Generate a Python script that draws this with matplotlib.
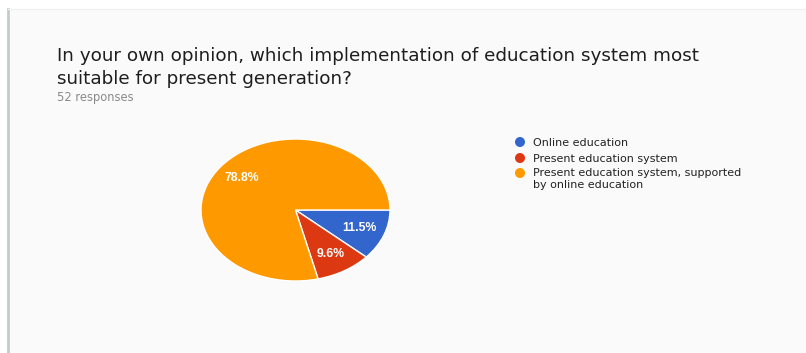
import matplotlib.pyplot as plt
from matplotlib.patches import Rectangle

# survey data (52 responses)
labels = ["Online education", "Present education system",
          "Present education system, supported\nby online education"]
counts = [6, 5, 41]
colors = ["#3366cc", "#dc3912", "#ff9900"]

title_lines = ["In your own opinion, which implementation of education system most",
               "suitable for present generation?"]
subtitle = "52 responses"

W, H = 806, 353
fig = plt.figure(figsize=(W / 100, H / 100), dpi=100)
fig.patch.set_facecolor("white")

## background card in pixel coordinates
bg = fig.add_axes([0, 0, 1, 1])
bg.set_xlim(0, W)
bg.set_ylim(H, 0)
bg.axis("off")
bg.add_patch(Rectangle((8, 9), W - 8, H - 9, facecolor="#fafafa", edgecolor="none"))
bg.plot([8, 8], [9, H], color="#c5cbcb", lw=2)
bg.plot([8, W], [9, 9], color="#f0f0f0", lw=1)

## title, two lines
for y, line in zip([61, 84], title_lines):
    bg.text(57, y, line, fontsize=13.2, family="DejaVu Sans", color="#1e1e1e",
            va="baseline", ha="left")
bg.text(57, 101, subtitle, fontsize=8.3, family="DejaVu Sans", color="#8a8a8a",
        va="baseline", ha="left")

## pie drawn as a stretched ellipse
px0, px1, py0, py1 = 201, 390, 139, 281
pie_ax = fig.add_axes([px0 / W, 1 - py1 / H, (px1 - px0) / W, (py1 - py0) / H])
wedges, texts, autotexts = pie_ax.pie(
    counts, colors=colors, startangle=0, counterclock=False,
    autopct="%1.1f%%", pctdistance=0.72,
    wedgeprops=dict(edgecolor="white", linewidth=1),
    textprops=dict(color="white", fontsize=8.8, family="Liberation Sans",
                   fontweight="bold"))
pie_ax.set_aspect("auto")
pie_ax.set_xlim(-1, 1)
pie_ax.set_ylim(-1, 1)
pie_ax.axis("off")

## legend
leg_y = [142, 158, 173]
for y, lab, c in zip(leg_y, labels, colors):
    bg.scatter([520], [y], s=52, color=c, edgecolors="none")
    bg.text(533, y - 4.5, lab, fontsize=8, family="DejaVu Sans", color="#222222",
            va="top", ha="left", linespacing=1.2)

fig.savefig("out.png", dpi=100)
